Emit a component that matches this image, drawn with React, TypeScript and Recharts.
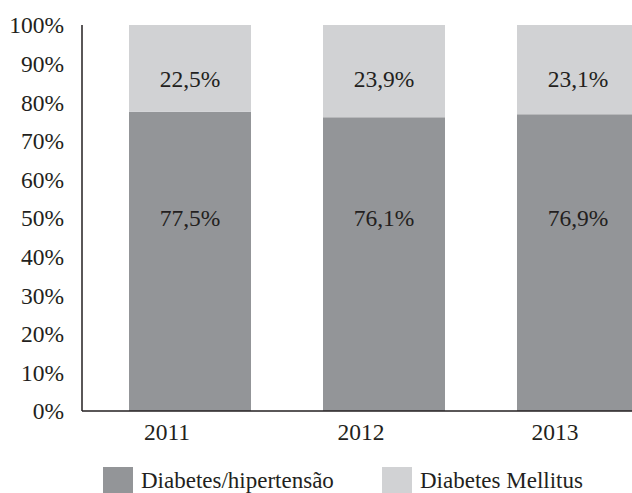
import React from "react"
import { BarChart, Bar, XAxis, YAxis, Legend, LabelList } from "recharts"

const years = ["2011", "2012", "2013"]
const diabetesHipertensao = [77.5, 76.1, 76.9]
const diabetesMellitus = [22.5, 23.9, 23.1]
const yTicks = [0, 10, 20, 30, 40, 50, 60, 70, 80, 90, 100]
const seriesNames = ["Diabetes/hipertensão", "Diabetes Mellitus"]

const data = years.map((year, i) => ({
  year,
  dh: diabetesHipertensao[i],
  dm: diabetesMellitus[i],
}))

const FONT = '"Liberation Serif", "Times New Roman", serif'
const TEXT = "#231f20"
const DARK = "#939598"
const LIGHT = "#d1d2d4"

const fmt = (v: number) => v.toFixed(1).replace(".", ",") + "%"

// labels sit at a fixed level of the axis: 50% for the bottom series, 86% for the top one
const makeLabel = (level: number, fromTop: boolean) => (props: any) => {
  const { x, y, width, height, value } = props
  const pxPerPct = height / value
  const top = fromTop ? 100 : value
  const ly = y + (top - level) * pxPerPct
  return (
    <text
      x={x + width / 2}
      y={ly}
      textAnchor="middle"
      dominantBaseline="central"
      fontFamily={FONT}
      fontSize={23.5}
      fill={TEXT}
    >
      {fmt(value)}
    </text>
  )
}

const XTick = (props: any) => {
  const { x, y, payload } = props
  return (
    <text x={x - 23} y={y} dy="0.71em" textAnchor="middle" fontFamily={FONT} fontSize={23.5} fill={TEXT}>
      {payload.value}
    </text>
  )
}

const renderLegend = () => (
  <div style={{ height: 42, position: "relative", fontFamily: FONT, fontSize: 23, color: TEXT }}>
    {seriesNames.map((name, i) => (
      <div
        key={name}
        style={{
          position: "absolute",
          left: i === 0 ? 103 : 382,
          top: 16,
          display: "flex",
          alignItems: "flex-start",
          whiteSpace: "nowrap",
        }}
      >
        <div style={{ width: 30, height: 30, background: i === 0 ? DARK : LIGHT, marginRight: 8 }} />
        <span style={{ lineHeight: "24px", marginTop: 2 }}>{name}</span>
      </div>
    ))}
  </div>
)

export default function App() {
  return (
    <div
      style={{
        position: "absolute",
        left: 0,
        top: 0,
        width: 632,
        height: 493,
        overflow: "hidden",
        background: "#fff",
      }}
    >
      <BarChart width={680} height={493} data={data} margin={{ top: 25, right: 5, left: 0, bottom: 0 }}>
        <XAxis
          dataKey="year"
          height={40}
          padding={{ left: 11, right: 0 }}
          tickLine={false}
          tickMargin={6}
          axisLine={{ stroke: TEXT, strokeWidth: 1.5 }}
          tick={<XTick />}
        />
        <YAxis
          width={82}
          domain={[0, 100]}
          ticks={yTicks}
          interval={0}
          tickLine={false}
          tickMargin={12}
          tickFormatter={(v: number) => `${v}%`}
          axisLine={{ stroke: TEXT, strokeWidth: 1.5 }}
          tick={{ fontFamily: FONT, fontSize: 23.5, fill: TEXT }}
        />
        <Legend verticalAlign="bottom" content={renderLegend} wrapperStyle={{ height: 42 }} />
        <Bar dataKey="dh" name={seriesNames[0]} stackId="a" fill={DARK} barSize={122} isAnimationActive={false}>
          <LabelList dataKey="dh" content={makeLabel(50, false)} />
        </Bar>
        <Bar dataKey="dm" name={seriesNames[1]} stackId="a" fill={LIGHT} barSize={122} isAnimationActive={false}>
          <LabelList dataKey="dm" content={makeLabel(86, true)} />
        </Bar>
      </BarChart>
    </div>
  )
}
